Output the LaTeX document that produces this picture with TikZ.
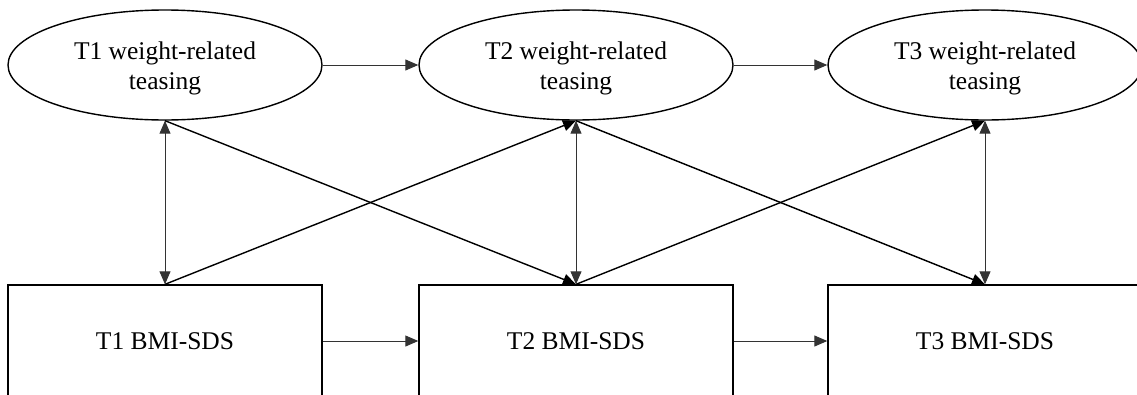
\documentclass[tikz,border=0pt]{standalone}
\usepackage{fontspec}
\setmainfont{Liberation Serif}
\usetikzlibrary{arrows.meta,shapes.geometric}
\newcommand{\downstrut}{\rule{0pt}{24.5pt}}
\begin{document}
\begin{tikzpicture}[x=1pt,y=-1pt,
  lat/.style={ellipse,draw,line width=1.4pt,minimum width=314pt,minimum height=110pt,inner sep=0pt,align=center,font=\fontsize{25.5pt}{30pt}\selectfont},
  obs/.style={rectangle,draw,line width=1.4pt,minimum width=314pt,minimum height=112pt,inner sep=0pt,font=\fontsize{25.5pt}{30pt}\selectfont},
  tip/.style={-{Triangle[length=13pt,width=11pt]}},
  path1/.style={tip,line width=1.4pt,black},
  path2/.style={tip,line width=1pt,black!80},
  cov/.style={{Triangle[length=13pt,width=11pt]}-{Triangle[length=13pt,width=11pt]},line width=1pt,black!80}]
\useasboundingbox (0,0) rectangle (1137,394);
\node[lat] (e1) at (165,65) {\downstrut T1 weight-related\\teasing};
\node[lat] (e2) at (576,65) {\downstrut T2 weight-related\\teasing};
\node[lat] (e3) at (985,65) {\downstrut T3 weight-related\\teasing};
\node[obs] (b1) at (165,341) {T1 BMI-SDS};
\node[obs] (b2) at (576,341) {T2 BMI-SDS};
\node[obs] (b3) at (985,341) {T3 BMI-SDS};
\draw[path2] (e1.east) -- (e2.west);
\draw[path2] (e2.east) -- (e3.west);
\draw[path2] (b1.east) -- (b2.west);
\draw[path2] (b2.east) -- (b3.west);
\draw[cov] (e1.south) -- (b1.north);
\draw[cov] (e2.south) -- (b2.north);
\draw[cov] (e3.south) -- (b3.north);
\draw[path1] (e1.south) -- (b2.north);
\draw[path1] (b1.north) -- (e2.south);
\draw[path1] (e2.south) -- (b3.north);
\draw[path1] (b2.north) -- (e3.south);
\end{tikzpicture}
\end{document}
